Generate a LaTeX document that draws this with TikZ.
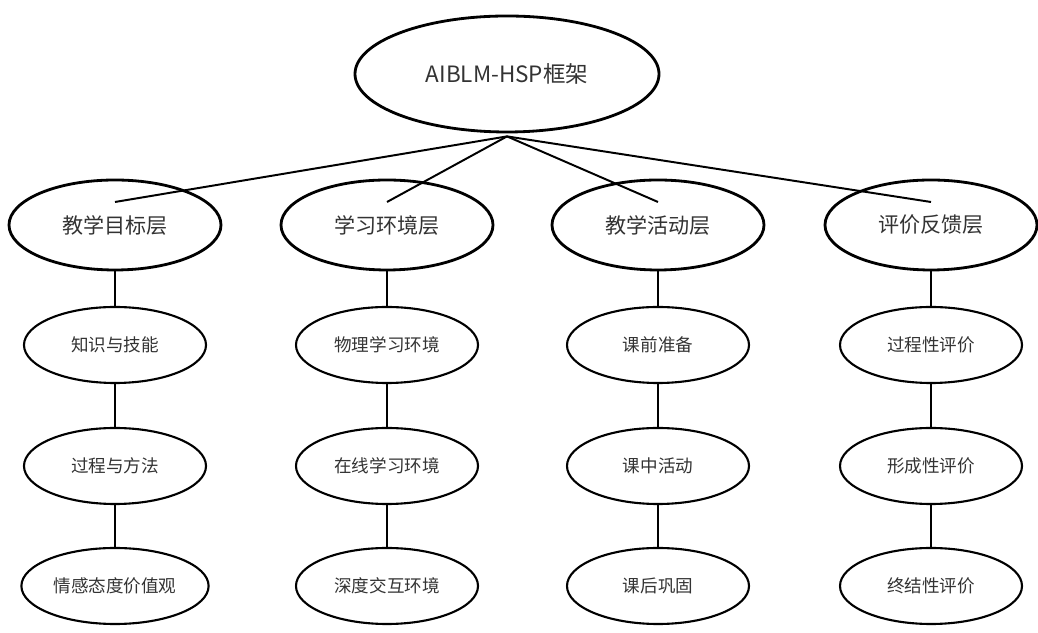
\documentclass[tikz,border=0pt]{standalone}
\usepackage{fontspec}
\setmainfont{Noto Sans CJK SC}
\usetikzlibrary{shapes.geometric,calc}
\definecolor{TxtGray}{HTML}{333333}
\tikzset{
  root/.style={ellipse,draw,line width=2pt,minimum width=7.6cm,minimum height=2.9cm,text=TxtGray,font=\fontsize{16}{19}\selectfont},
  layer/.style={ellipse,draw,line width=2pt,minimum width=5.3cm,minimum height=2.25cm,text=TxtGray,font=\fontsize{15}{18}\selectfont},
  item/.style={ellipse,draw,line width=1.5pt,minimum width=4.55cm,minimum height=1.9cm,text=TxtGray,font=\fontsize{12.5}{15}\selectfont},
  link/.style={line width=1.4pt}
}

\begin{document}
\begin{tikzpicture}
  \useasboundingbox (0,0) rectangle (25.95,15.825);
  \node[root] (frame) at (12.675,13.975) {AIBLM-HSP框架};

  \node[layer] (goal) at (2.875,10.2) {教学目标层};
  \node[layer] (env) at (9.675,10.2) {学习环境层};
  \node[layer] (act) at (16.45,10.2) {教学活动层};
  \node[layer] (eval) at (23.275,10.2) {评价反馈层};

  \node[item] (goal1) at (2.875,7.2) {知识与技能};
  \node[item] (goal2) at (2.875,4.175) {过程与方法};
  \node[item] (goal3) at (2.875,1.175) {情感态度价值观};

  \node[item] (env1) at (9.675,7.2) {物理学习环境};
  \node[item] (env2) at (9.675,4.175) {在线学习环境};
  \node[item] (env3) at (9.675,1.175) {深度交互环境};

  \node[item] (act1) at (16.45,7.2) {课前准备};
  \node[item] (act2) at (16.45,4.175) {课中活动};
  \node[item] (act3) at (16.45,1.175) {课后巩固};

  \node[item] (eval1) at (23.275,7.2) {过程性评价};
  \node[item] (eval2) at (23.275,4.175) {形成性评价};
  \node[item] (eval3) at (23.275,1.175) {终结性评价};

  % spokes from the framework into each layer
  \coordinate (hub) at ($(frame.south)+(0,-0.075)$);
  \foreach \n in {goal,env,act,eval} {
    \coordinate (\n-in) at ($(\n)+(0,0.575)$);
    \draw[link] (hub) -- (\n-in);
    \draw[link] (\n) -- (\n1);
    \draw[link] (\n1) -- (\n2);
    \draw[link] (\n2) -- (\n3);
  }
\end{tikzpicture}
\end{document}
